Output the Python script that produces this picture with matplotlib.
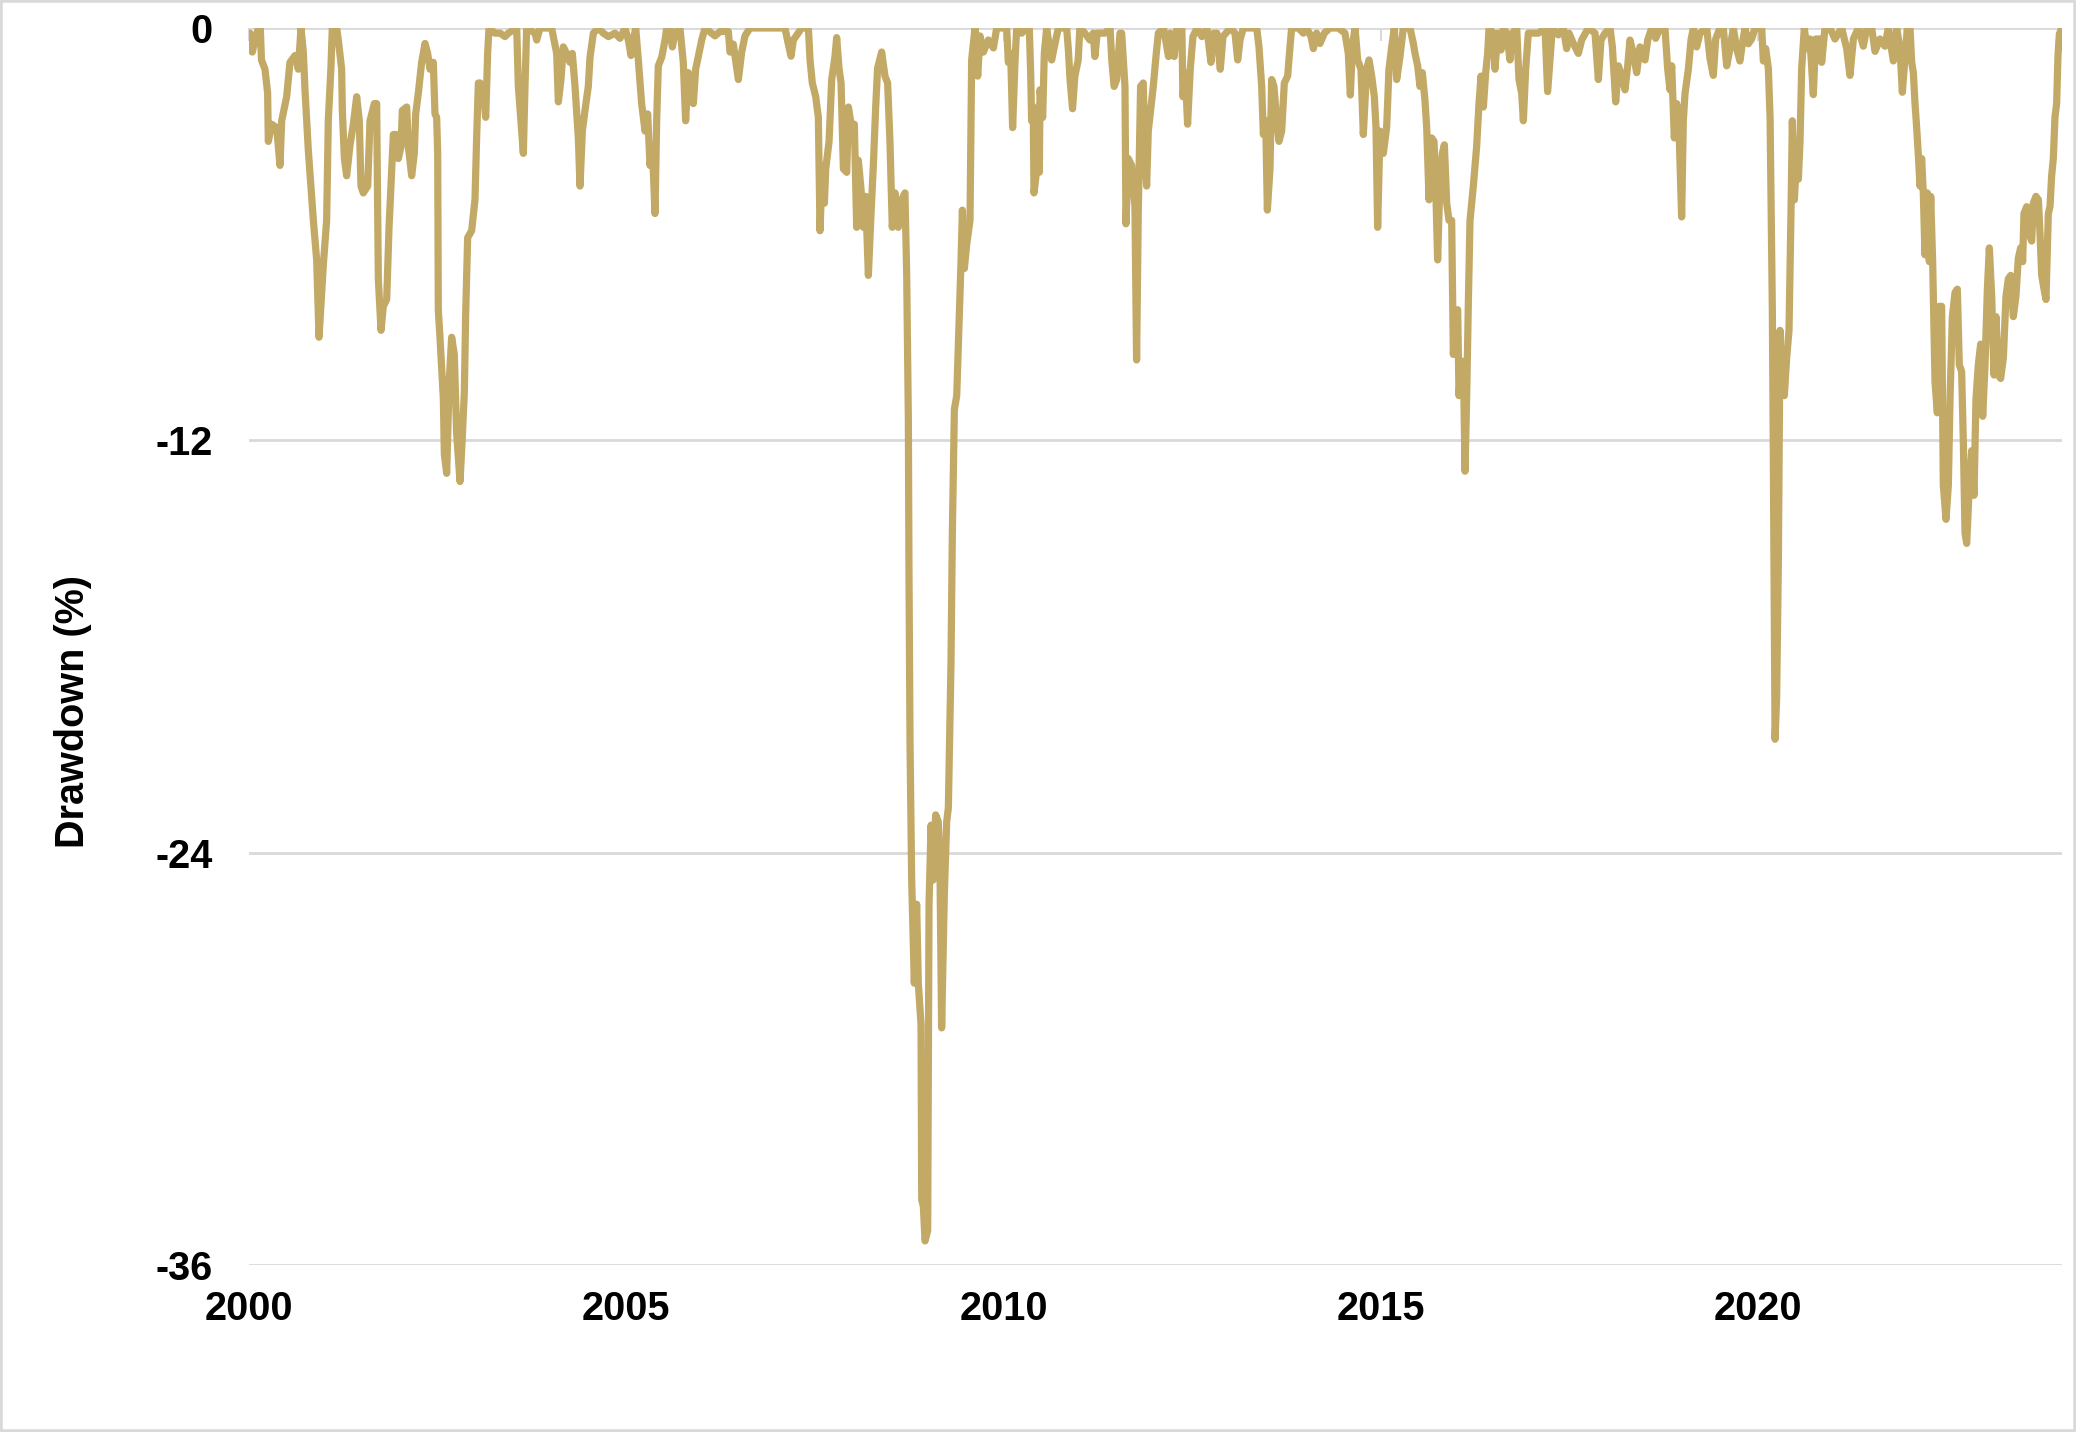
import matplotlib
matplotlib.use("Agg")
import matplotlib.pyplot as plt
from matplotlib.patches import Rectangle
import numpy as np

# ---------------- data (decimal years offset from 2000, drawdown %) ----------------
t_2000_2003 = [0.013, 0.044, 0.080, 0.124, 0.150, 0.165, 0.212, 0.247, 0.256, 0.300, 0.367, 0.411, 0.433, 0.499,
               0.543, 0.610, 0.654, 0.689, 0.720, 0.742, 0.786, 0.853, 0.897, 0.928, 0.985, 1.029, 1.051, 1.087,
               1.104, 1.162, 1.184, 1.228, 1.237, 1.264, 1.294, 1.339, 1.383, 1.427, 1.462, 1.484, 1.515, 1.573,
               1.604, 1.661, 1.692, 1.714, 1.750, 1.780, 1.825, 1.856, 1.891, 1.913, 1.957, 1.979, 2.015, 2.032,
               2.090, 2.112, 2.156, 2.191, 2.209, 2.244, 2.288, 2.333, 2.368, 2.399, 2.443, 2.465, 2.487, 2.501,
               2.509, 2.531, 2.576, 2.589, 2.620, 2.651, 2.686, 2.721, 2.752, 2.797, 2.827, 2.854, 2.872, 2.898,
               2.951, 2.995, 3.017, 3.040]
dd_2000_2003 = [-0.15, -0.70, -0.35, 0, 0, -0.93, -1.20, -1.90, -3.30, -2.80, -2.90, -4.00, -2.70, -2.00,
                -1.00, -0.80, -1.20, 0, -0.70, -1.80, -3.55, -5.60, -6.75, -9.00, -6.90, -5.60, -2.70, -1.10,
                0, 0, -0.35, -1.20, -2.40, -3.80, -4.30, -3.40, -2.80, -2.00, -2.70, -4.60, -4.80, -4.60,
                -2.70, -2.20, -2.20, -7.30, -8.80, -8.10, -7.90, -5.80, -4.10, -3.10, -3.10, -3.80, -3.45, -2.40,
                -2.30, -3.45, -4.30, -3.65, -2.50, -1.90, -1.00, -0.45, -0.74, -1.20, -1.00, -2.50, -2.60, -3.65,
                -8.20, -9.00, -10.80, -12.40, -12.96, -10.40, -9.00, -9.50, -11.80, -13.20, -11.90, -10.60, -8.30, -6.10,
                -5.90, -5.00, -3.20, -1.60]

t_2003_2006 = [3.062, 3.106, 3.137, 3.163, 3.181, 3.260, 3.327, 3.393, 3.437, 3.548, 3.570, 3.636, 3.658, 3.680,
               3.791, 3.813, 3.857, 4.011, 4.078, 4.100, 4.135, 4.166, 4.210, 4.254, 4.285, 4.321, 4.365, 4.387,
               4.418, 4.453, 4.497, 4.520, 4.564, 4.630, 4.696, 4.763, 4.851, 4.917, 4.983, 5.028, 5.063, 5.094,
               5.125, 5.160, 5.204, 5.249, 5.284, 5.315, 5.346, 5.381, 5.403, 5.425, 5.470, 5.514, 5.536, 5.580,
               5.611, 5.646, 5.712, 5.756, 5.787, 5.822, 5.867, 5.889, 5.920, 5.964, 6.000, 6.044]
dd_2003_2006 = [-1.60, -1.80, -2.60, -0.74, 0, -0.15, -0.15, -0.25, -0.15, 0, -1.70, -3.65, -1.70, 0,
                -0.15, -0.35, 0, 0, -0.74, -2.15, -1.50, -0.55, -0.74, -1.00, -0.74, -1.70, -3.20, -4.60,
                -3.00, -2.40, -1.70, -0.85, -0.15, 0, -0.15, -0.25, -0.15, -0.30, 0, -0.35, -0.80, -0.35,
                0, -0.93, -2.20, -3.00, -2.50, -4.00, -3.45, -5.40, -2.70, -1.10, -0.85, -0.35, 0, 0,
                -0.55, -0.15, 0, -1.00, -2.70, -1.30, -1.50, -2.20, -1.20, -0.74, -0.35, 0]

t_2006_2010 = [6.176, 6.243, 6.353, 6.375, 6.419, 6.486, 6.530, 6.574, 6.640, 6.751, 6.927, 7.104, 7.148, 7.184,
               7.215, 7.325, 7.414, 7.436, 7.466, 7.511, 7.546, 7.568, 7.599, 7.626, 7.644, 7.688, 7.723, 7.767,
               7.789, 7.820, 7.847, 7.878, 7.922, 7.945, 7.980, 8.023, 8.054, 8.076, 8.112, 8.142, 8.173, 8.209,
               8.240, 8.275, 8.306, 8.331, 8.385, 8.429, 8.464, 8.495, 8.526, 8.562, 8.606, 8.650, 8.694, 8.717,
               8.739, 8.747, 8.761, 8.783, 8.818, 8.849, 8.871, 8.907, 8.916, 8.938, 8.960, 8.995, 9.013, 9.040,
               9.066, 9.101, 9.136, 9.158, 9.180, 9.216, 9.247, 9.269, 9.304, 9.322, 9.335, 9.349, 9.380, 9.411,
               9.437, 9.455, 9.481, 9.512, 9.556, 9.578, 9.622, 9.658, 9.689, 9.733, 9.799, 9.866, 9.910]
dd_2006_2010 = [-0.23, -0.10, -0.10, -0.70, -0.47, -1.50, -0.70, -0.23, 0, 0, 0, 0, -0.47, -0.82,
                -0.35, 0, 0, -0.93, -1.60, -2.00, -2.60, -5.90, -4.00, -5.10, -4.10, -3.30, -1.50, -0.82,
                -0.28, -1.17, -1.60, -4.10, -4.20, -2.30, -2.80, -2.80, -5.80, -3.85, -4.70, -5.80, -4.90, -7.20,
                -5.60, -4.00, -2.30, -1.17, -0.70, -1.40, -1.60, -3.30, -5.80, -4.80, -5.80, -5.00, -4.80, -7.20,
                -11.40, -15.70, -20.80, -24.80, -27.80, -25.50, -27.80, -29.00, -34.10, -34.30, -35.30, -35.00, -25.50, -23.20,
                -24.80, -22.90, -23.10, -24.50, -29.10, -25.20, -23.10, -22.70, -18.50, -14.70, -12.90, -11.10, -10.70, -8.60,
                -6.80, -5.30, -7.00, -6.30, -5.60, -0.93, 0, -1.40, -0.23, -0.70, -0.35, -0.58, 0]

t_2010_2013 = [9.998, 10.042, 10.064, 10.095, 10.121, 10.152, 10.175, 10.241, 10.298, 10.342, 10.360, 10.373,
               10.395, 10.404, 10.431, 10.453, 10.475, 10.484, 10.519, 10.541, 10.572, 10.607, 10.638, 10.683,
               10.727, 10.837, 10.860, 10.882, 10.915, 10.946, 10.990, 11.012, 11.079, 11.145, 11.189, 11.211,
               11.242, 11.344, 11.412, 11.435, 11.466, 11.500, 11.544, 11.566, 11.610, 11.623, 11.654, 11.698,
               11.720, 11.742, 11.764, 11.786, 11.817, 11.852, 11.874, 11.897, 11.919, 11.950, 11.985, 12.021,
               12.052, 12.121, 12.187, 12.210, 12.263, 12.298, 12.364, 12.378, 12.409, 12.440, 12.475, 12.511,
               12.564, 12.630, 12.696, 12.749, 12.785, 12.829, 12.873, 12.909, 13.006]
dd_2010_2013 = [0, 0, -1.00, -0.74, -2.90, -1.00, 0, -0.15, 0, 0, -1.30, -2.70,
                -2.60, -4.80, -4.30, -2.30, -4.20, -1.80, -2.60, -0.74, 0, -0.55, -0.93, -0.45,
                0, 0, -0.64, -1.50, -2.35, -1.40, -0.93, 0, -0.15, -0.35, -0.15, -0.83,
                -0.15, -0.15, 0, -0.93, -1.70, -1.50, -0.15, -0.15, -1.70, -5.70, -3.80, -4.00,
                -4.60, -5.20, -9.66, -5.40, -1.70, -1.60, -3.70, -4.60, -3.00, -2.40, -1.70, -0.83,
                -0.15, 0, -0.83, -0.15, -0.83, 0, 0, -2.00, -1.30, -2.80, -1.20, -0.25,
                0, -0.25, 0, -1.00, -0.15, -0.15, -1.20, -0.25, 0]

t_2013_2016 = [13.068, 13.104, 13.135, 13.179, 13.267, 13.356, 13.386, 13.422, 13.444, 13.475, 13.497, 13.532,
               13.554, 13.585, 13.620, 13.651, 13.687, 13.722, 13.766, 13.797, 13.819, 13.908, 13.974, 14.018,
               14.076, 14.107, 14.150, 14.195, 14.252, 14.327, 14.438, 14.526, 14.570, 14.597, 14.624, 14.659,
               14.694, 14.738, 14.769, 14.813, 14.844, 14.880, 14.915, 14.937, 14.959, 14.990, 15.034, 15.078,
               15.109, 15.145, 15.180, 15.211, 15.255, 15.299, 15.388, 15.432, 15.454, 15.489, 15.520, 15.551,
               15.586, 15.609, 15.640, 15.675, 15.706, 15.728, 15.754, 15.785, 15.816, 15.843, 15.874, 15.905,
               15.940, 15.962, 15.993, 16.020, 16.037, 16.064, 16.095, 16.117, 16.139, 16.161, 16.183]
dd_2013_2016 = [-0.15, -0.93, -0.35, 0, 0, 0, -0.55, -1.70, -3.10, -2.70, -5.30, -4.10,
                -1.50, -1.70, -2.70, -3.30, -3.00, -1.60, -1.40, -0.55, 0, 0, -0.15, 0,
                -0.25, -0.60, -0.15, -0.45, -0.15, 0, 0, -0.15, -0.74, -1.95, -0.55, 0,
                -0.93, -1.20, -3.10, -1.20, -0.93, -1.40, -2.00, -2.90, -5.80, -3.00, -3.65, -2.90,
                -1.20, -0.55, 0, -1.50, -0.83, 0, 0, -0.45, -0.74, -1.10, -1.70, -1.30,
                -2.10, -2.90, -5.00, -3.20, -3.30, -4.60, -6.75, -4.40, -3.65, -3.40, -5.10, -5.60,
                -5.60, -9.50, -8.30, -8.20, -10.70, -9.70, -9.70, -12.90, -10.70, -8.00, -5.60]

t_2016_2019 = [16.227, 16.271, 16.302, 16.329, 16.360, 16.391, 16.417, 16.435, 16.492, 16.514, 16.550, 16.594,
               16.625, 16.669, 16.713, 16.744, 16.802, 16.832, 16.868, 16.890, 16.921, 16.956, 17.045, 17.089,
               17.177, 17.212, 17.243, 17.274, 17.354, 17.420, 17.464, 17.495, 17.553, 17.619, 17.663, 17.751,
               17.840, 17.884, 17.919, 17.972, 18.039, 18.070, 18.114, 18.149, 18.194, 18.237, 18.273, 18.303,
               18.348, 18.392, 18.436, 18.502, 18.538, 18.591, 18.644, 18.701, 18.767, 18.803, 18.834, 18.856,
               18.891, 18.922, 18.953, 18.988, 19.010, 19.033, 19.077, 19.112, 19.143, 19.187, 19.231]
dd_2016_2019 = [-4.60, -3.45, -2.20, -1.40, -2.30, -1.30, -0.74, 0, -0.15, -1.20, -0.15, -0.64,
                0, -0.15, -0.93, -0.15, 0, -1.50, -1.90, -2.70, -1.20, -0.15, -0.15, -0.15,
                0, -1.85, -0.93, 0, -0.20, 0, -0.60, -0.15, -0.45, -0.74, -0.35, 0,
                -0.15, -1.50, -0.35, -0.15, 0, -0.55, -2.15, -1.10, -1.40, -1.80, -1.10, -0.35,
                -0.74, -1.30, -0.55, -0.93, -0.35, 0, -0.30, 0, 0, -1.20, -1.80, -1.10,
                -3.20, -2.20, -2.95, -5.50, -2.70, -1.90, -1.20, -0.35, 0, -0.55, -0.15]

t_2019_2022 = [19.320, 19.364, 19.408, 19.439, 19.496, 19.540, 19.585, 19.629, 19.673, 19.717, 19.761, 19.792,
               19.828, 19.872, 19.916, 19.960, 20.049, 20.071, 20.102, 20.137, 20.160, 20.190, 20.203, 20.226,
               20.247, 20.270, 20.292, 20.305, 20.323, 20.349, 20.380, 20.411, 20.437, 20.455, 20.482, 20.513,
               20.535, 20.557, 20.579, 20.614, 20.645, 20.689, 20.733, 20.764, 20.822, 20.844, 20.888, 20.954,
               21.020, 21.109, 21.175, 21.219, 21.264, 21.330, 21.396, 21.440, 21.507, 21.551, 21.617, 21.683,
               21.727, 21.794, 21.838, 21.882, 21.913, 21.948]
dd_2019_2022 = [0, -0.89, -1.38, -0.32, 0, 0, -1.10, -0.60, 0, -0.60, -0.96, -0.46,
                0, -0.46, -0.32, 0, 0, -0.96, -0.60, -1.17, -2.60, -8.20, -12.40, -20.70,
                -19.50, -15.50, -8.80, -10.40, -9.60, -10.70, -9.60, -8.80, -5.40, -2.70, -5.00, -3.70,
                -4.40, -3.30, -1.17, 0, -0.60, -0.32, -1.94, -0.32, -0.32, -1.00, 0, 0,
                -0.32, 0, -0.60, -1.38, -0.32, 0, -0.53, 0, 0, -0.68, -0.32, -0.53,
                0, -0.96, 0, -0.60, -1.87, -0.89]

t_2022_2024 = [21.979, 22.015, 22.037, 22.059, 22.081, 22.103, 22.125, 22.147, 22.169, 22.191, 22.213, 22.244,
               22.271, 22.289, 22.315, 22.333, 22.346, 22.377, 22.403, 22.434, 22.456, 22.492, 22.523, 22.545,
               22.576, 22.611, 22.642, 22.668, 22.699, 22.721, 22.744, 22.766, 22.801, 22.832, 22.863, 22.889,
               22.920, 22.951, 22.978, 23.009, 23.040, 23.066, 23.097, 23.128, 23.154, 23.185, 23.216, 23.252,
               23.287, 23.318, 23.349, 23.384, 23.419, 23.450, 23.481, 23.508, 23.525, 23.561, 23.596, 23.627,
               23.649, 23.684, 23.716, 23.738, 23.760, 23.791, 23.817, 23.848, 23.870, 23.892, 23.914, 23.936,
               23.958, 23.976, 23.994, 24.025]
dd_2022_2024 = [0, 0, -1.00, -1.30, -2.20, -2.90, -3.70, -4.60, -3.80, -4.80, -6.60, -4.80,
                -6.80, -4.90, -6.80, -8.80, -10.30, -11.20, -8.10, -8.10, -13.30, -14.30, -13.30, -10.80,
                -8.40, -7.70, -7.60, -9.80, -10.00, -12.00, -14.70, -15.00, -13.30, -12.30, -13.60, -10.80,
                -9.80, -9.20, -11.30, -9.80, -7.60, -6.40, -7.80, -10.10, -8.40, -10.10, -10.20, -9.60,
                -7.80, -7.30, -7.20, -8.40, -7.80, -6.70, -6.40, -6.80, -5.40, -5.20, -6.00, -6.20,
                -5.10, -4.90, -5.00, -6.00, -7.20, -7.60, -7.90, -5.40, -5.20, -4.30, -3.80, -2.60,
                -2.20, -0.80, -0.18, 0]

base_year = 2000
x_ticks = [2000, 2005, 2010, 2015, 2020]
y_ticks = [-36, -24, -12, 0]
y_label = "Drawdown (%)"

# ---------------- assemble ----------------
t_all = np.concatenate([t_2000_2003, t_2003_2006, t_2006_2010, t_2010_2013,
                        t_2013_2016, t_2016_2019, t_2019_2022, t_2022_2024]) + base_year
dd_all = np.concatenate([dd_2000_2003, dd_2003_2006, dd_2006_2010, dd_2010_2013,
                         dd_2013_2016, dd_2016_2019, dd_2019_2022, dd_2022_2024])

# ---------------- style ----------------
plt.rcParams['font.family'] = ['Liberation Sans', 'DejaVu Sans']
plt.rcParams['font.weight'] = 'bold'

W, H, DPI = 2076, 1432, 100
LINE = '#C3A966'
GRID = '#D9D9D9'
FS = 28.5

fig = plt.figure(figsize=(W / DPI, H / DPI), dpi=DPI)
ax_l, ax_r, ax_t, ax_b = 249, 2062, 28, 1265
ax = fig.add_axes([ax_l / W, 1 - ax_b / H, (ax_r - ax_l) / W, (ax_b - ax_t) / H])

ax.plot(t_all, dd_all, color=LINE, lw=5.2, solid_joinstyle='round', solid_capstyle='round', zorder=3)

ax.set_xlim(2000, 2000 + (ax_r - ax_l) / 75.45)
ax.set_ylim(-36, 0)
ax.set_yticks(y_ticks)
ax.set_yticklabels([str(v) for v in y_ticks])
ax.set_xticks(x_ticks)
ax.set_xticklabels([str(v) for v in x_ticks])

for s in ax.spines.values():
    s.set_visible(False)
ax.grid(axis='y', color=GRID, lw=2.0)
ax.grid(axis='x', visible=False)
ax.set_axisbelow(True)

ax.tick_params(axis='y', length=0, pad=26, labelsize=FS, labelcolor='black')
ax.tick_params(axis='x', bottom=False, top=True, direction='in', length=9.5, width=1.5,
               color=GRID, labelbottom=True, labeltop=False, pad=18, labelsize=FS, labelcolor='black')

fig.text(73 / W, 1 - 711 / H, y_label, rotation=90, ha='center', va='center',
         fontsize=FS, fontweight='bold')

fig.add_artist(Rectangle((0, 0), 1, 1, transform=fig.transFigure, fill=False,
                         edgecolor=GRID, lw=4, zorder=10))

fig.savefig('out.png', dpi=DPI, facecolor='white')
